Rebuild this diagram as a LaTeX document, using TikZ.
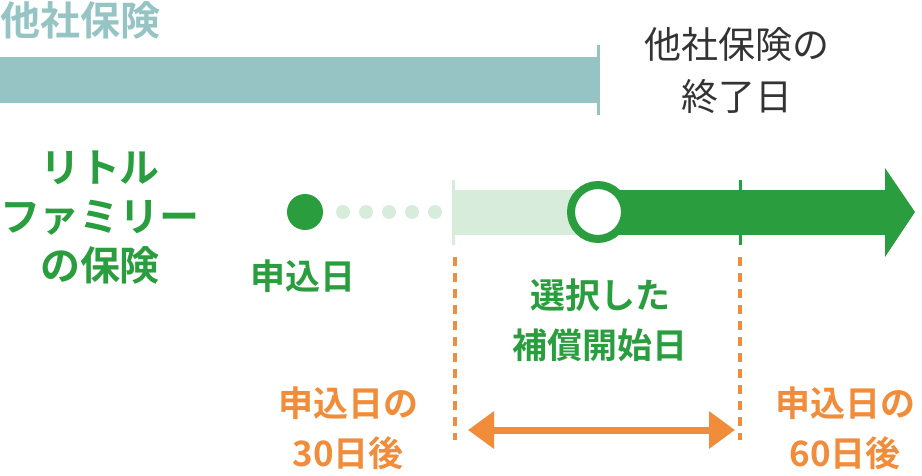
\documentclass[tikz,border=0pt]{standalone}
\usepackage{fontspec}
\newfontfamily\jp{Noto Sans CJK JP}
\newfontfamily\jpb{Noto Sans CJK JP Bold}
\usetikzlibrary{arrows.meta}
\definecolor{teal}{HTML}{96C4C4}
\definecolor{grn}{HTML}{2A9E3F}
\definecolor{lgrn}{HTML}{D8ECDC}
\definecolor{org}{HTML}{F08C3A}
\definecolor{dgray}{HTML}{333333}
\begin{document}
\begin{tikzpicture}[x=1pt,y=-1pt,
  lab/.style={font=\jpb\fontsize{35}{50}\selectfont,align=center,inner sep=0pt},
  orgline/.style={org,line width=3.5pt,dash pattern=on 9pt off 7pt}]
\useasboundingbox (0,0) rectangle (922,476);
\node[lab,teal,anchor=west,font=\jpb\fontsize{40}{48}\selectfont] (t1) at (0,20) {他社保険};
\fill[teal] (0,57) rectangle (598,103);
\draw[teal,line width=3pt] (598,45) -- (598,115);
\node[lab,font=\jp\fontsize{37}{52}\selectfont,dgray] (t2) at (737,71) {他社保険の\\終了日};
\node[lab,grn,font=\jpb\fontsize{40}{49}\selectfont] (t3) at (100,218) {リトル\\ファミリー\\の保険};
\fill[grn] (305,212) circle (18);
\foreach \x in {343,366,389,412,435} \fill[lgrn] (\x,212) circle (7);
\fill[lgrn] (453,190) rectangle (595,235);
\draw[lgrn,line width=3pt] (453,180) -- (453,245);
\fill[grn] (595,190) rectangle (886,235);
\fill[grn] (885,168) -- (915,212) -- (885,257) -- cycle;
\draw[grn,line width=3pt] (740,180) -- (740,245);
\draw[grn,fill=white,line width=8pt] (598,212) circle (27);
\node[lab,grn] (t4) at (303,276) {申込日};
\draw[orgline] (455,257) -- (455,440);
\draw[orgline] (740,257) -- (740,440);
\node[lab,grn] (t5) at (600,320) {選択した\\補償開始日};
\node[lab,org] (t6) at (348,428) {申込日の\\30日後};
\node[lab,org] (t7) at (845,428) {申込日の\\60日後};
\coordinate (a1) at (468,430);
\coordinate (a2) at (735,430);
\draw[org,line width=7pt,{Triangle[length=26pt,width=36pt]}-{Triangle[length=26pt,width=36pt]}] (a1) -- (a2);
\end{tikzpicture}
\end{document}
